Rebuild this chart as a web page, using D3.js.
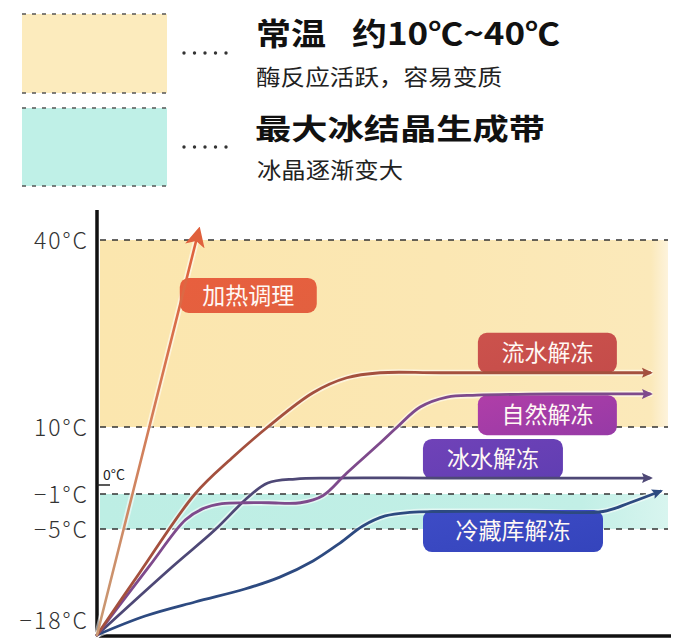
<!DOCTYPE html>
<html>
<head>
<meta charset="utf-8">
<script src="https://cdn.jsdelivr.net/npm/d3@7"></script>
<style>
  html, body { margin: 0; padding: 0; background: #ffffff; }
  svg { display: block; }
  text { font-family: "Noto Sans CJK SC", "Noto Sans", sans-serif; }
</style>
</head>
<body>
<div id="chart"></div>
<script>
// ---------------- DATA ----------------
const scaleTemps   = [-18, -5, -1, 0, 10, 40];           // breakpoints of the (non-linear) temperature axis
const tickValues   = [40, 10, -1, -5, -18];
const tickLabels   = ["40°C", "10°C", "−1°C", "−5°C", "−18°C"];
const zeroLabel    = "0°C";

const bandNames    = ["常温", "最大冰结晶生成带"];
const bandLow      = [10, -5];
const bandHigh     = [40, -1];
const legendTitles = ["常温", "最大冰结晶生成带"];
const legendTitle1b = "约10℃~40℃";
const legendSubs   = ["酶反应活跃，容易变质", "冰晶逐渐变大"];

const seriesNames  = ["加热调理", "流水解冻", "自然解冻", "冰水解冻", "冷藏库解冻"];
// time (arbitrary units 0-100) and temperature (°C) of each thawing curve
const heatT   = [0, 17.5];
const heatV   = [-18, 40.6];
const flowT   = [0, 7.5, 17.1, 23.5, 29.8, 37.7, 43.6, 49.4, 60, 96.5];
const flowV   = [-18, -10.3, -1, 4.6, 10, 15.5, 17.9, 18.7, 18.7, 18.7];
const natT    = [0, 9.2, 15.4, 18.4, 21.8, 26, 30, 35.5, 39.4, 43.6, 49.4, 52.4, 56.4, 61.1, 66.3, 80, 96.5];
const natV    = [-18, -9.5, -3.97, -2.7, -2.1, -2.0, -2.0, -2.0, -1.2, 2.07, 7.24, 10, 13.2, 14.8, 15.1, 15.3, 15.3];
const iceT    = [0, 13.1, 20.6, 26.4, 29.8, 34.6, 40.7, 60, 96.5];
const iceV    = [-18, -9.66, -5.1, -1.34, 0.34, 1.03, 1.2, 1.2, 1.2];
const coldT   = [0, 8.4, 17.1, 25.8, 31.9, 37.7, 42.4, 46.4, 50.3, 54.6, 59.9, 75, 88.3, 93.0, 98.3];
const coldV   = [-18, -15.67, -13.95, -12.36, -10.9, -8.92, -6.72, -4.66, -3.51, -3.1, -3.0, -3.0, -3.0, -2.0, -0.7];

// label anchors (data units: time, °C)
const labelT  = [26.4, 78.6, 78.6, 69.1, 72.6];
const labelV  = [31.1, 21.9, 11.9, 4.5, -5.25];

// ---------------- STYLE / LAYOUT ----------------
const W = 682, H = 638;
const lineColors = ["#e0603c", "#a4503e", "#7e4a8c", "#4e4876", "#2d4a80"];
const boxColors  = [["#e85f3e", "#e2603f"], ["#cc524c", "#c44c4a"], ["#b03ea8", "#963aa6"], ["#7042b8", "#603eb2"], ["#3e4cc6", "#3444bc"]];
const boxW = [137, 139, 139, 140, 180];
const boxH = [35, 40, 40, 40, 42];

const svg = d3.select("#chart").append("svg").attr("width", W).attr("height", H);
const defs = svg.append("defs");

const x = d3.scaleLinear().domain([0, 100]).range([97, 670]);
const y = d3.scaleLinear().domain(scaleTemps).range([635, 529, 494, 485, 427, 240]);

const bandX0 = 100, bandX1 = 668;

// gradients for bands
const g1 = defs.append("linearGradient").attr("id", "bandY").attr("x1", "0").attr("x2", "1");
g1.append("stop").attr("offset", "0").attr("stop-color", "#fbe6ae");
g1.append("stop").attr("offset", "0.6").attr("stop-color", "#fbe7b3");
g1.append("stop").attr("offset", "0.97").attr("stop-color", "#fbe9ba");
g1.append("stop").attr("offset", "1").attr("stop-color", "#fdf3dc");
const g2 = defs.append("linearGradient").attr("id", "bandC").attr("x1", "0").attr("x2", "1");
g2.append("stop").attr("offset", "0").attr("stop-color", "#bdeee4");
g2.append("stop").attr("offset", "0.85").attr("stop-color", "#c2efe6");
g2.append("stop").attr("offset", "1").attr("stop-color", "#d8f5ef");
const bandFills = ["url(#bandY)", "url(#bandC)"];

// heating line gradient
const gh = defs.append("linearGradient").attr("id", "heatGrad").attr("gradientUnits", "userSpaceOnUse")
  .attr("x1", x(heatT[0])).attr("y1", y(heatV[0])).attr("x2", x(heatT[1])).attr("y2", y(heatV[1]));
gh.append("stop").attr("offset", "0").attr("stop-color", "#c99a74");
gh.append("stop").attr("offset", "0.5").attr("stop-color", "#d27e5a");
gh.append("stop").attr("offset", "1").attr("stop-color", "#e0603c");

// box gradients
boxColors.forEach((c, i) => {
  const g = defs.append("linearGradient").attr("id", "box" + i).attr("x1", "0").attr("x2", "1").attr("y1", "0").attr("y2", "1");
  g.append("stop").attr("offset", "0").attr("stop-color", c[0]);
  g.append("stop").attr("offset", "1").attr("stop-color", c[1]);
});

// arrow markers
lineColors.forEach((c, i) => {
  const big = i === 0;
  defs.append("marker").attr("id", "arr" + i)
    .attr("viewBox", "0 -6 12 12")
    .attr("refX", big ? 6 : 8).attr("refY", 0)
    .attr("markerUnits", "userSpaceOnUse")
    .attr("markerWidth", big ? 20 : 12).attr("markerHeight", big ? 20 : 12)
    .attr("orient", "auto")
    .append("path").attr("d", big ? "M0,-6L12,0L0,6L3,0Z" : "M0,-5L11,0L0,5L2,0Z").attr("fill", c);
});

// ---------------- LEGEND ----------------
const legY = [[14, 93], [108, 186]];
const legFills = ["#fcebbd", "#bff0e7"];
legY.forEach((r, i) => {
  svg.append("rect").attr("x", 22).attr("y", r[0]).attr("width", 145).attr("height", r[1] - r[0]).attr("fill", legFills[i]);
  [r[0], r[1]].forEach(yy => {
    svg.append("line").attr("x1", 22).attr("x2", 167).attr("y1", yy).attr("y2", yy)
      .attr("stroke", "#555").attr("stroke-width", 1.5).attr("stroke-dasharray", "4,6");
  });
  const dy = i === 0 ? 53 : 147;
  d3.range(5).forEach(k => {
    svg.append("circle").attr("cx", 184 + k * 10.5).attr("cy", dy).attr("r", 1.7).attr("fill", "#333");
  });
});

svg.append("text").attr("x", 256).attr("y", 45).attr("font-size", 31).attr("font-weight", 700)
  .attr("fill", "#111").attr("textLength", 70).attr("lengthAdjust", "spacingAndGlyphs").text(legendTitles[0]);
svg.append("text").attr("x", 352).attr("y", 45).attr("font-size", 31).attr("font-weight", 700)
  .attr("fill", "#111").attr("textLength", 208).attr("lengthAdjust", "spacingAndGlyphs").text(legendTitle1b);
svg.append("text").attr("x", 256).attr("y", 85).attr("font-size", 22)
  .attr("fill", "#222").attr("textLength", 246).attr("lengthAdjust", "spacingAndGlyphs").text(legendSubs[0]);
svg.append("text").attr("x", 255).attr("y", 140).attr("font-size", 29).attr("font-weight", 700)
  .attr("fill", "#111").attr("textLength", 290).attr("lengthAdjust", "spacingAndGlyphs").text(legendTitles[1]);
svg.append("text").attr("x", 257).attr("y", 178).attr("font-size", 22)
  .attr("fill", "#222").attr("textLength", 146).attr("lengthAdjust", "spacingAndGlyphs").text(legendSubs[1]);

// ---------------- BANDS ----------------
bandNames.forEach((n, i) => {
  svg.append("rect").attr("x", bandX0).attr("y", y(bandHigh[i]))
    .attr("width", bandX1 - bandX0).attr("height", y(bandLow[i]) - y(bandHigh[i]))
    .attr("fill", bandFills[i]);
});

// dashed reference lines
[40, 10, -1, -5].forEach(v => {
  svg.append("line").attr("x1", bandX0).attr("x2", bandX1).attr("y1", y(v)).attr("y2", y(v))
    .attr("stroke", "#333").attr("stroke-width", 1.3).attr("stroke-dasharray", "6,6");
});

// ---------------- AXES ----------------
const yAxis = d3.axisLeft(y).tickValues(tickValues).tickSize(0).tickPadding(0)
  .tickFormat((d, i) => tickLabels[i]);
const ya = svg.append("g").attr("transform", "translate(89,0)").call(yAxis);
ya.select(".domain").remove();
ya.selectAll("text")
  .attr("font-family", "Lato, 'Open Sans', sans-serif").attr("font-weight", 300)
  .attr("font-size", 23).attr("fill", "#333").style("letter-spacing", "2px")
  .attr("dy", d => d === -18 ? "-0.3em" : "0.35em");

svg.append("line").attr("x1", 97).attr("x2", 97).attr("y1", 210).attr("y2", 637)
  .attr("stroke", "#111").attr("stroke-width", 3.5);
svg.append("line").attr("x1", 95.5).attr("x2", 671).attr("y1", 636).attr("y2", 636)
  .attr("stroke", "#111").attr("stroke-width", 3.5);

// 0°C mark
svg.append("line").attr("x1", 97).attr("x2", 110).attr("y1", y(0)).attr("y2", y(0))
  .attr("stroke", "#222").attr("stroke-width", 1.5);
svg.append("text").attr("x", 103).attr("y", y(0) - 5).attr("font-size", 14)
  .attr("font-family", "Lato, 'Open Sans', sans-serif").attr("fill", "#222").text(zeroLabel);

// ---------------- CURVES ----------------
const seriesT = [heatT, flowT, natT, iceT, coldT];
const seriesV = [heatV, flowV, natV, iceV, coldV];
const line = d3.line().x(d => x(d[0])).y(d => y(d[1])).curve(d3.curveCatmullRom.alpha(0.5));
const straight = d3.line().x(d => x(d[0])).y(d => y(d[1]));

const order = [4, 3, 2, 1, 0];
order.forEach(i => {
  const pts = seriesT[i].map((t, k) => [t, seriesV[i][k]]);
  const gen = i === 0 ? straight : line;
  svg.append("path").attr("d", gen(pts)).attr("fill", "none")
    .attr("stroke", "#ffffff").attr("stroke-opacity", 0.55).attr("stroke-width", 6)
    .attr("stroke-linecap", "round");
});

// labels boxes (drawn before the lines that touch them)
seriesNames.forEach((name, i) => {
  const cx = x(labelT[i]), cy = y(labelV[i]);
  svg.append("rect").attr("x", cx - boxW[i] / 2).attr("y", cy - boxH[i] / 2)
    .attr("width", boxW[i]).attr("height", boxH[i]).attr("rx", 9).attr("ry", 9)
    .attr("fill", "url(#box" + i + ")");
});

order.forEach(i => {
  const pts = seriesT[i].map((t, k) => [t, seriesV[i][k]]);
  const gen = i === 0 ? straight : line;
  svg.append("path").attr("d", gen(pts)).attr("fill", "none")
    .attr("stroke", i === 0 ? "url(#heatGrad)" : lineColors[i])
    .attr("stroke-width", i === 0 ? 2.6 : 2.8)
    .attr("stroke-linecap", "round")
    .attr("marker-end", "url(#arr" + i + ")");
});

// box texts
seriesNames.forEach((name, i) => {
  const cx = x(labelT[i]), cy = y(labelV[i]);
  svg.append("text").attr("x", cx).attr("y", cy).attr("dy", "0.36em")
    .attr("text-anchor", "middle").attr("font-size", 23).attr("fill", "#fff8f4")
    .text(name);
});
</script>
</body>
</html>
